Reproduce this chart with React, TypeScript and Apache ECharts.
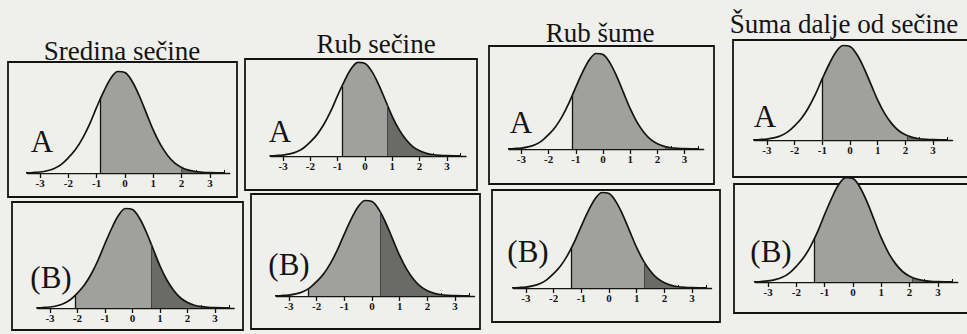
import React, { useEffect, useRef } from "react";
import * as echarts from "echarts";

// Curve (relative density height, peak = 1)
const curveX = [-3.5, -3.25, -3, -2.75, -2.5, -2.25, -2, -1.75, -1.5, -1.25, -1, -0.75, -0.5, -0.25, 0, 0.25, 0.5, 0.75, 1, 1.25, 1.5, 1.75, 2, 2.25, 2.5, 2.75, 3, 3.25, 3.5];
const curveY = [0.002, 0.005, 0.01, 0.022, 0.045, 0.085, 0.15, 0.23, 0.34, 0.48, 0.645, 0.8, 0.93, 0.995, 0.985, 0.9, 0.76, 0.59, 0.42, 0.28, 0.175, 0.1, 0.055, 0.028, 0.013, 0.006, 0.003, 0.0015, 0.0008];

const titles = ["Sredina sečine", "Rub sečine", "Rub šume", "Šuma dalje od sečine"];
const rowLetters = ["A", "(B)"];
// shading start (medium grey) and dark-tail start, per column
const shadeStartA = [-0.86, -0.85, -1.14, -1.0];
const darkStartA = [2.0, 0.8, 2.3, 2.05];
const shadeStartB = [-2.1, -2.3, -1.37, -1.38];
const darkStartB = [0.67, 0.3, 1.26, 2.1];
const tickValues = [-3, -2, -1, 0, 1, 2, 3];
const minorTickValues = [-2.5, -1.5, -0.5, 0.5, 1.5, 2.5, 3.5];

// layout (pixel geometry of each scanned panel)
const layoutA = [
  { box: [8, 62, 229, 135], zx: 125, u: 28.3, base: 173, peak: 71, lx: 42, ly: 152 },
  { box: [245, 59, 232, 131], zx: 365, u: 27.3, base: 156, peak: 62, lx: 280, ly: 142 },
  { box: [489, 46, 225, 138], zx: 603, u: 27.2, base: 149, peak: 53, lx: 521, ly: 133 },
  { box: [733, 40, 240, 137], zx: 850, u: 27.7, base: 140, peak: 45, lx: 765, ly: 127 },
];
const layoutB = [
  { box: [12, 202, 231, 128], zx: 132.5, u: 27.5, base: 308, peak: 208, lx: 51, ly: 288 },
  { box: [251, 194, 229, 135], zx: 372, u: 27.7, base: 296, peak: 200, lx: 289, ly: 275 },
  { box: [492, 190, 228, 132], zx: 609, u: 27.7, base: 288, peak: 192, lx: 528, ly: 262 },
  { box: [734, 184, 240, 129], zx: 853, u: 28.3, base: 282, peak: 177, lx: 771, ly: 262 },
];
const titlePos = [
  { x: 122, y: 51 },
  { x: 376, y: 44 },
  { x: 600, y: 33 },
  { x: 844, y: 24 },
];

const X_MIN = -3.45;
const X_MAX = 3.7;
const INK = "#141414";
const MID = "#a0a09e";
const DARK = "#6a6a68";
const PAPER = "#efefec";
const SERIF = "Liberation Serif";

function yAt(x: number): number {
  for (let k = 0; k < curveX.length - 1; k++) {
    if (x >= curveX[k] && x <= curveX[k + 1]) {
      const t = (x - curveX[k]) / (curveX[k + 1] - curveX[k]);
      return curveY[k] + t * (curveY[k + 1] - curveY[k]);
    }
  }
  return 0;
}

function buildOption() {
  const grids: any[] = [];
  const xAxes: any[] = [];
  const yAxes: any[] = [];
  const series: any[] = [];
  const visualMaps: any[] = [];
  const graphics: any[] = [];

  const panels: any[] = [];
  for (let c = 0; c < 4; c++) {
    panels.push({ L: layoutA[c], s: shadeStartA[c], d: darkStartA[c], letter: rowLetters[0] });
    panels.push({ L: layoutB[c], s: shadeStartB[c], d: darkStartB[c], letter: rowLetters[1] });
  }

  const pts = curveX.map((x, k) => [x, curveY[k]]);

  panels.forEach((p, i) => {
    const L = p.L;
    grids.push({
      left: L.zx + X_MIN * L.u,
      width: (X_MAX - X_MIN) * L.u,
      top: L.peak,
      height: L.base - L.peak,
      containLabel: false,
    });
    xAxes.push({
      gridIndex: i,
      type: "value",
      min: X_MIN,
      max: X_MAX,
      position: "bottom",
      axisLine: { show: true, onZero: false, lineStyle: { color: INK, width: 1.4 } },
      axisTick: { show: true, customValues: tickValues, length: 5, inside: false, lineStyle: { color: INK, width: 1.3 } },
      axisLabel: {
        show: true,
        customValues: tickValues,
        formatter: (v: number) => String(v),
        margin: 4,
        fontFamily: SERIF,
        fontWeight: "bold",
        fontSize: 11,
        color: INK,
      },
      splitLine: { show: false },
    });
    xAxes.push({
      gridIndex: i,
      type: "value",
      min: X_MIN,
      max: X_MAX,
      position: "bottom",
      axisLine: { show: false, onZero: false },
      axisTick: { show: true, customValues: minorTickValues, length: 3, inside: true, lineStyle: { color: INK, width: 1 } },
      axisLabel: { show: false },
      splitLine: { show: false },
    });
    yAxes.push({ gridIndex: i, type: "value", min: 0, max: 1, show: false });

    series.push({
      type: "line",
      xAxisIndex: 2 * i,
      yAxisIndex: i,
      data: pts,
      smooth: 0.35,
      symbol: "none",
      lineStyle: { color: INK, width: 1.7 },
      areaStyle: { opacity: 1 },
      z: 3,
      markLine: {
        silent: true,
        symbol: ["none", "none"],
        label: { show: false },
        lineStyle: { color: INK, width: 1.3, type: "solid" },
        data: [
          [{ coord: [p.s, yAt(p.s)] }, { coord: [p.s, 0] }],
          [{ coord: [p.d, yAt(p.d)], lineStyle: { width: 0.8, color: "#3a3a3a" } }, { coord: [p.d, 0] }],
        ],
      },
    });
    visualMaps.push({
      type: "piecewise",
      show: false,
      seriesIndex: i,
      dimension: 0,
      pieces: [
        { lt: p.s, color: PAPER },
        { gte: p.s, lt: p.d, color: MID },
        { gte: p.d, color: DARK },
      ],
    });

    graphics.push({
      type: "rect",
      z: 1,
      shape: { x: L.box[0], y: L.box[1], width: L.box[2], height: L.box[3] },
      style: { fill: "none", stroke: INK, lineWidth: 1.8 },
    });
    graphics.push({
      type: "text",
      z: 5,
      x: L.lx,
      y: L.ly - 0.34 * 31,
      style: {
        text: p.letter,
        fontFamily: SERIF,
        fontSize: 31,
        fill: INK,
        align: "center",
        verticalAlign: "middle",
        textAlign: "center",
        textVerticalAlign: "middle",
      },
    });
  });

  titles.forEach((t, c) => {
    graphics.push({
      type: "text",
      z: 5,
      x: titlePos[c].x,
      y: titlePos[c].y,
      style: {
        text: t,
        fontFamily: SERIF,
        fontSize: 27,
        fill: INK,
        align: "center",
        verticalAlign: "middle",
        textAlign: "center",
        textVerticalAlign: "middle",
      },
    });
  });

  return {
    animation: false,
    backgroundColor: PAPER,
    grid: grids,
    xAxis: xAxes,
    yAxis: yAxes,
    visualMap: visualMaps,
    series,
    graphic: graphics,
  };
}

export default function App() {
  const ref = useRef<HTMLDivElement>(null);
  useEffect(() => {
    if (!ref.current) return;
    const chart = echarts.init(ref.current, undefined, { renderer: "svg" });
    chart.setOption(buildOption() as any);
    return () => chart.dispose();
  }, []);
  return (
    <div
      ref={ref}
      style={{ position: "fixed", left: 0, top: 0, width: 967, height: 334 }}
    />
  );
}
